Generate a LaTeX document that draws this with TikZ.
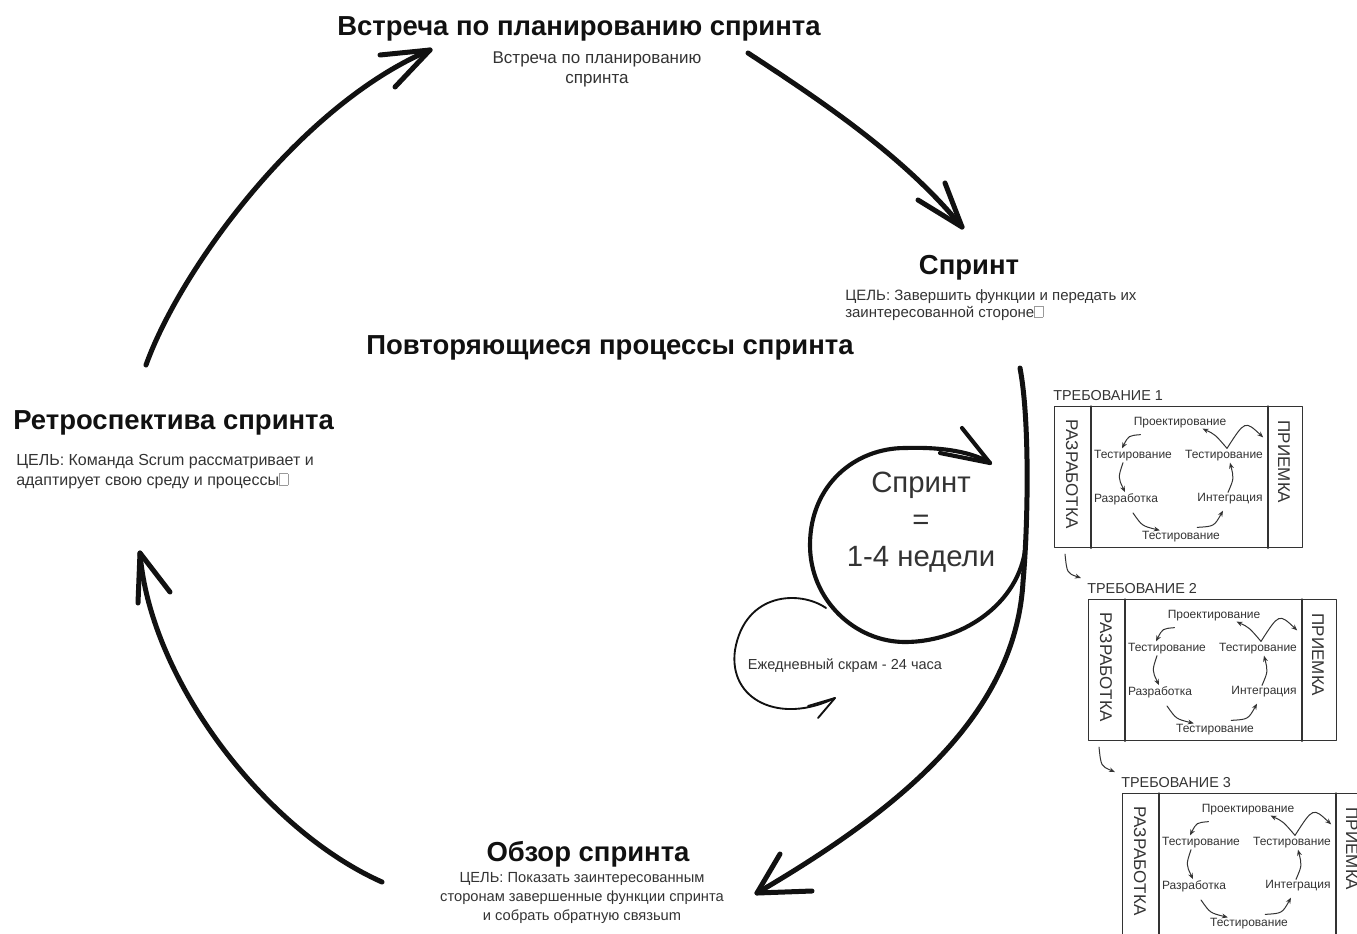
\documentclass[tikz,border=0pt]{standalone}
\usepackage{fontspec}
\setmainfont{Liberation Sans}
\usetikzlibrary{arrows.meta,calc}

\definecolor{ink}{HTML}{111111}
\definecolor{softink}{HTML}{333333}
\definecolor{glyphbox}{HTML}{9A9A9A}

% outline box standing in for a character the font could not show
\newcommand{\missingglyph}{{\color{glyphbox}\setlength{\fboxrule}{0.5pt}\setlength{\fboxsep}{0pt}\fbox{\rule{0pt}{0.68em}\hspace{0.5em}}}}

\begin{document}
\begin{tikzpicture}[x=0.75pt, y=-0.75pt, line cap=round, line join=round,
  heading/.style={font=\bfseries\fontsize{20.6}{24}\selectfont, text=ink, inner sep=0pt, anchor=base},
  subnote/.style={font=\fontsize{12.75}{15}\selectfont, text=softink, inner sep=0pt, anchor=base, align=center},
  goal/.style={font=\fontsize{11.25}{12.75}\selectfont, text=softink, inner sep=0pt, anchor=base west, align=left},
  retronote/.style={font=\fontsize{12}{15}\selectfont, text=softink, inner sep=0pt, anchor=base west, align=left},
  reviewnote/.style={font=\fontsize{11}{13.9}\selectfont, text=softink, inner sep=0pt, anchor=base, align=center},
  cycletext/.style={font=\fontsize{22}{27.4}\selectfont, text=softink, inner sep=0pt, anchor=base, align=center},
  dailytext/.style={font=\fontsize{10.9}{13}\selectfont, text=softink, inner sep=0pt, anchor=base},
  cyclearc/.style={draw=ink, line width=3.75pt},
  looparc/.style={draw=ink, line width=3.1pt},
  dailyarc/.style={draw=ink, line width=1.4pt},
  reqframe/.style={draw=softink, line width=0.9pt, anchor=north west, inner sep=0pt,
    minimum width=186pt, minimum height=105.75pt},
  boxline/.style={draw=softink, line width=0.9pt},
  reqtitle/.style={font=\fontsize{10.8}{12}\selectfont, text=softink, inner sep=0pt, anchor=base west},
  phase/.style={font=\fontsize{12.75}{15}\selectfont, text=softink, inner sep=0pt, rotate=-90},
  stage/.style={font=\fontsize{9}{11}\selectfont, text=softink, inner sep=0pt},
  flow/.style={draw=softink, line width=0.75pt, -{Stealth[length=4.5pt, width=3.6pt]}},
  handoff/.style={draw=softink, line width=0.75pt, -{Stealth[length=4.5pt, width=3.6pt]}}
]
\useasboundingbox (0,0) rectangle (1357,933);
\clip (0,0) rectangle (1357,933);

% ---- phase headings and their goals (multi-line notes sit on their last baseline) ----
\node[heading] (plan) at (579,35) {Встреча по планированию спринта};
\node[subnote] (plannote) at (597,83) {Встреча по планированию\\спринта};

\node[heading] (sprint) at (969,274) {Спринт};
\node[goal] (sprintgoal) at (845,317) {ЦЕЛЬ: Завершить функции и передать их\\заинтересованной стороне\missingglyph};

\node[heading] (repeat) at (610,354) {Повторяющиеся процессы спринта};

\node[heading, anchor=base west] (retro) at (13,429) {Ретроспектива спринта};
\node[retronote] (retrogoal) at (16,485) {ЦЕЛЬ: Команда Scrum рассматривает и\\адаптирует свою среду и процессы\missingglyph};

\node[heading] (review) at (588,861) {Обзор спринта};
\node[reviewnote] (reviewgoal) at (582,920) {ЦЕЛЬ: Показать заинтересованным\\сторонам завершенные функции спринта\\и собрать обратную связьum};

\node[cycletext] (cycle) at (921,566) {Спринт\\=\\1-4 недели};
\node[dailytext] (daily) at (845,669) {Ежедневный скрам - 24 часа};

% ---- the outer sprint cycle ----
\coordinate (retroOut) at (146,365);
\coordinate (planIn) at (430,50);
\coordinate (planOut) at (748,53);
\coordinate (sprintIn) at (962,227);
\coordinate (sprintOut) at (1020,368);
\coordinate (sprintMid) at (1023,582);
\coordinate (reviewIn) at (757,893);
\coordinate (reviewOut) at (382,882);
\coordinate (retroIn) at (140,553);

\draw[cyclearc] (retroOut) .. controls (180,270) and (300,105) .. (planIn);
\draw[cyclearc] (planIn) -- ++(-50,5) (planIn) -- ++(-35,37);

\draw[cyclearc] (planOut) .. controls (823,102) and (905,157) .. (sprintIn);
\draw[cyclearc] (sprintIn) -- ++(-44,-27) (sprintIn) -- ++(-17,-44);

\draw[cyclearc] (sprintOut) .. controls (1030,420) and (1028,527) .. (sprintMid)
  .. controls (1015,720) and (890,815) .. (reviewIn);
\draw[cyclearc] (reviewIn) -- ++(23,-39) (reviewIn) -- ++(55,-2);

\draw[cyclearc] (reviewOut) .. controls (265,830) and (150,680) .. (retroIn);
\draw[cyclearc] (retroIn) -- ++(-2,50) (retroIn) -- ++(30,39);

% ---- sprint loop ----
\coordinate (loopStart) at (1026,540);
\coordinate (loopTip) at (990,463);
\draw[looparc] (loopStart) .. controls (1024,600) and (965,642) .. (905,642)
  .. controls (855,642) and (810,600) .. (810,545)
  .. controls (810,485) and (855,448) .. (905,448)
  .. controls (935,447) and (969,450) .. (loopTip);
\draw[looparc] (loopTip) -- ++(-28,-35) (loopTip) -- ++(-50,-10);

% ---- daily scrum loop ----
\coordinate (dailyStart) at (826,608);
\coordinate (dailyTip) at (835,698);
\draw[dailyarc] (dailyStart) .. controls (800,590) and (745,592) .. (735,650)
  .. controls (728,700) and (780,725) .. (dailyTip);
\draw[dailyarc] (dailyTip) -- ++(-27,8) (dailyTip) -- ++(-17,20);

% ---- requirement boxes ----
\foreach \i/\ox/\oy in {1/1054/406, 2/1088/599, 3/1122/793}{
  \begin{scope}[shift={(\ox,\oy)}]
    \node[reqframe] (r\i) at (0,0) {};
    \draw[boxline] ($(r\i.north west)+(37,0)$) -- ($(r\i.south west)+(37,0)$);
    \draw[boxline] ($(r\i.north west)+(214,0)$) -- ($(r\i.south west)+(214,0)$);
    \node[reqtitle] (r\i-title) at (-1,-6) {ТРЕБОВАНИЕ \i};
    \node[phase] (r\i-dev) at (18,68) {РАЗРАБОТКА};
    \node[phase] (r\i-acc) at (230,56) {ПРИЕМКА};
    \node[stage] (r\i-design) at (126,17) {Проектирование};
    \node[stage] (r\i-testL) at (79,50) {Тестирование};
    \node[stage] (r\i-testR) at (170,50) {Тестирование};
    \node[stage] (r\i-build) at (72,93) {Разработка};
    \node[stage] (r\i-integ) at (176,93) {Интеграция};
    \node[stage] (r\i-testB) at (127,131) {Тестирование};
    \draw[flow] ($(r\i-design.south west)+(7,6)$) .. controls ($(r\i-design.south west)+(-5,7)$) .. ($(r\i-testL.north)+(-11,-2)$);
    \draw[flow] ($(r\i-testL.south)+(-10,1)$) .. controls ($(r\i-testL.south)+(-15,16)$) .. ($(r\i-build.north)+(-1,-1)$);
    \draw[flow] ($(r\i-build.south)+(7,8)$) .. controls ($(r\i-build.south)+(16,21)$) .. ($(r\i-testB.north west)+(18,-1)$);
    \draw[flow] ($(r\i-testB.north east)+(-23,-4)$) .. controls ($(r\i-testB.north east)+(-6,-5)$) .. ($(r\i-integ.south)+(-7,6)$);
    \draw[flow] ($(r\i-integ.north)+(-2,-1)$) .. controls ($(r\i-integ.north)+(4,-15)$) .. ($(r\i-testR.south)+(6,1)$);
    \draw[flow] ($(r\i-testR.north)+(3,-2)$) .. controls ($(r\i-testR.north)+(-9,-16)$) .. ($(r\i-design.south east)+(-24,0)$);
    \draw[flow] ($(r\i-testR.north)+(3,-2)$) .. controls ($(r\i-testR.north)+(21,-30)$) .. ($(r\i-testR.north east)+(0,-13)$);
  \end{scope}
}

% hand-offs from one requirement to the next
\draw[handoff] ($(r1.south west)+(11,6)$) .. controls ($(r1.south west)+(13,25)$) .. ($(r2-title.base west)+(-6,-15)$);
\draw[handoff] ($(r2.south west)+(11,6)$) .. controls ($(r2.south west)+(13,25)$) .. ($(r3-title.base west)+(-6,-15)$);

\end{tikzpicture}
\end{document}
